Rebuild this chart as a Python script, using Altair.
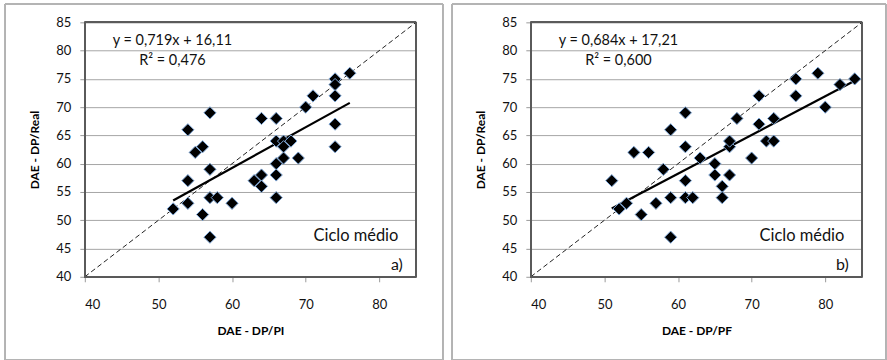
import altair as alt
import pandas as pd

# ---- data ----
x_a = [52, 54, 54, 54, 55, 56, 56, 57, 57, 57, 57, 58, 60, 63, 64, 64, 64, 66, 66, 66,
       66, 66, 67, 67, 67, 68, 69, 70, 71, 74, 74, 74, 74, 74, 76]
y_a = [52, 57, 66, 53, 62, 63, 51, 69, 59, 54, 47, 54, 53, 57, 58, 56, 68, 68, 64, 60,
       58, 54, 64, 63, 61, 64, 61, 70, 72, 75, 74, 72, 67, 63, 76]

x_b = [51, 52, 53, 54, 55, 56, 57, 58, 59, 59, 59, 61, 61, 61, 61, 62, 63, 65, 65, 66,
       66, 67, 67, 67, 68, 70, 71, 71, 72, 73, 73, 76, 76, 79, 80, 82, 84]
y_b = [57, 52, 53, 62, 51, 62, 53, 59, 66, 54, 47, 69, 63, 57, 54, 54, 61, 60, 58, 56,
       54, 63, 64, 58, 68, 61, 67, 72, 64, 64, 68, 75, 72, 76, 70, 74, 75]

fit_a = (0.719, 16.11)
fit_b = (0.684, 17.21)
eq_a = ["y = 0,719x + 16,11", "R² = 0,476"]
eq_b = ["y = 0,684x + 17,21", "R² = 0,600"]
x_titles = ["DAE - DP/PI", "DAE - DP/PF"]
y_title = "DAE - DP/Real"
tags = ["a)", "b)"]
label_text = "Ciclo médio"
x_ticks = [40, 50, 60, 70, 80]
y_ticks = [40, 45, 50, 55, 60, 65, 70, 75, 80, 85]
domain = [40, 85]

FONT = "Lato"
W, H = 332, 255


def panel(xs, ys, fit, eq, xtitle, tag, frame_left, frame_right):
    df = pd.DataFrame({"x": xs, "y": ys})
    xs_ = alt.Scale(domain=domain, nice=False, zero=False)
    ys_ = alt.Scale(domain=domain, nice=False, zero=False)
    xax = alt.Axis(values=x_ticks, title=xtitle, grid=False, tickSize=5,
                   tickColor="#9a9a9a", domainColor="#8a8a8a", labelFont=FONT,
                   labelFontSize=13, labelColor="#111", labelPadding=17,
                   labelOverlap=False,
                   titleFont=FONT, titleFontSize=12, titleFontWeight="bold",
                   titleColor="#000", titlePadding=14)
    yax = alt.Axis(values=y_ticks, title=y_title, grid=True, gridColor="#a6a6a6",
                   tickSize=5, tickColor="#9a9a9a", domainColor="#8a8a8a",
                   labelFont=FONT, labelFontSize=13, labelColor="#111",
                   labelPadding=9, labelOverlap=False, labelFlush=False,
                   titleFont=FONT, titleFontSize=12,
                   titleFontWeight="bold", titleColor="#000", titlePadding=14)

    def X(field):
        return alt.X(field, scale=xs_, axis=xax, title=xtitle)

    def Y(field):
        return alt.Y(field, scale=ys_, axis=yax, title=y_title)

    base = alt.Chart(df)

    frame = base.mark_rect(fillOpacity=0, stroke="#b4b4b4", strokeWidth=1).encode(
        x=alt.value(frame_left), x2=alt.value(frame_right),
        y=alt.value(-18), y2=alt.value(338))

    border = base.mark_rect(fillOpacity=0, stroke="#5a5a5a", strokeWidth=1).encode(
        x=alt.value(0), x2=alt.value(W), y=alt.value(0), y2=alt.value(H))

    diag = alt.Chart(pd.DataFrame({"x": domain})).transform_calculate(
        y="datum.x").mark_line(color="#222", strokeWidth=1, strokeDash=[5, 3]).encode(
        x=X("x:Q"), y=Y("y:Q"))

    trend = base.transform_aggregate(
        xmin="min(x)", xmax="max(x)"
    ).transform_fold(["xmin", "xmax"], as_=["k", "xv"]).transform_calculate(
        yv=f"{fit[0]} * datum.xv + {fit[1]}"
    ).mark_line(color="#000", strokeWidth=2.2).encode(x=X("xv:Q"), y=Y("yv:Q"))

    pts = base.mark_point(shape="diamond", filled=True, size=150, fill="#000",
                          stroke="#7fa8d8", strokeWidth=1, opacity=1).encode(
        x=X("x:Q"), y=Y("y:Q"))

    def txt(t, xv, yv, size, align="center"):
        return alt.Chart(pd.DataFrame({"t": [t]})).mark_text(
            font=FONT, fontSize=size, color="#111", align=align, baseline="middle"
        ).encode(x=alt.datum(xv, scale=xs_, axis=xax, title=xtitle),
                 y=alt.datum(yv, scale=ys_, axis=yax, title=y_title), text="t:N")

    texts = [txt(eq[0], 51.9, 81.7, 14.5), txt(eq[1], 51.9, 78.1, 14.5),
             txt(label_text, 82.6, 47.2, 16.5, "right"), txt(tag, 83.2, 42.1, 16, "right")]

    return alt.layer(frame, diag, border, trend, pts, *texts).properties(width=W, height=H)


pa = panel(x_a, y_a, fit_a, eq_a, x_titles[0], tags[0], -80, 359)
pb = panel(x_b, y_b, fit_b, eq_b, x_titles[1], tags[1], -79, 356)

chart = alt.hconcat(pa, pb, spacing=7).properties(
    padding={"left": 4, "top": 3, "right": 0, "bottom": 0}
).configure_view(strokeWidth=0).configure(background="white")

chart.save("out.html", embed_options={"renderer": "svg", "actions": False})
